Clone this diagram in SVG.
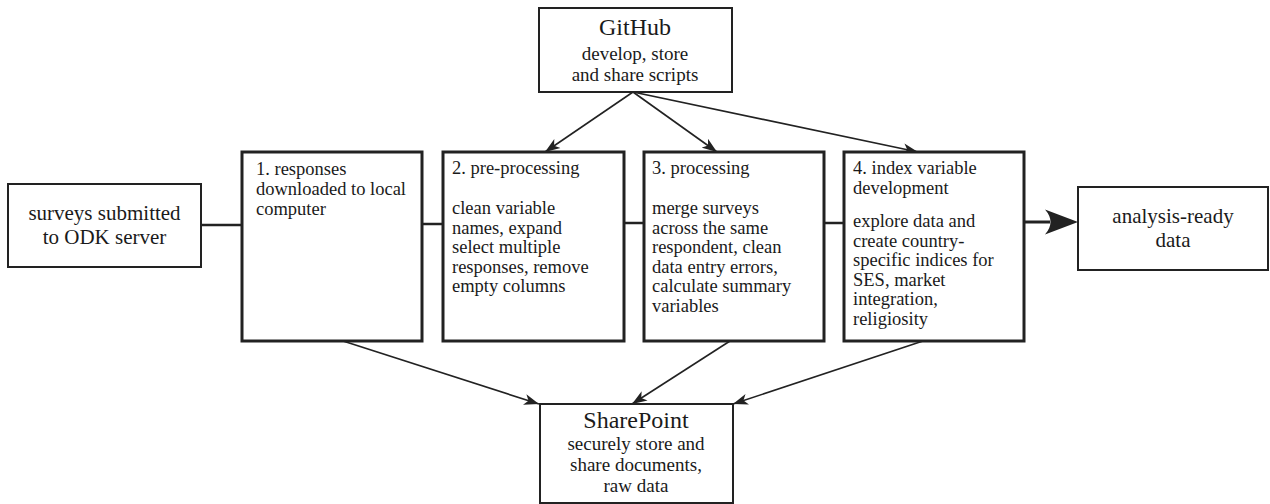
<svg xmlns="http://www.w3.org/2000/svg" width="1270" height="504" viewBox="0 0 1270 504">
<style>
  .box { fill: #ffffff; stroke: #222222; stroke-width: 2; }
  .pbox { fill: #ffffff; stroke: #222222; stroke-width: 3; }
  .t { font-family: "Liberation Serif", "Times New Roman", serif; fill: #1a1a1a; }
  .body { font-size: 18.5px; }
  .big { font-size: 21px; }
  .title { font-size: 24px; }
  .sub { font-size: 19px; }
  .conn { stroke: #222222; fill: none; }
  .h { stroke-width: 2.5; }
  .d { stroke-width: 1.6; }
</style>
<defs>
  <marker id="arr" markerUnits="userSpaceOnUse" markerWidth="16" markerHeight="12" refX="15" refY="6" orient="auto">
    <path d="M0,0.5 L15,6 L0,11.5 L4,6 z" fill="#222222"/>
  </marker>
</defs>
<rect width="1270" height="504" fill="#ffffff"/>

<g id="connectors">
  <line class="conn h" x1="201" y1="225" x2="242" y2="225"/>
  <line class="conn h" x1="422" y1="224" x2="443" y2="224"/>
  <line class="conn h" x1="624" y1="223" x2="644" y2="223"/>
  <line class="conn h" x1="824" y1="223" x2="844" y2="223"/>
  <line class="conn" stroke-width="3" x1="1024" y1="222" x2="1050" y2="222"/>
  <path d="M1078,222 L1045,209.5 Q1056,222 1045,234.5 z" fill="#222222"/>
  <line class="conn d" x1="633" y1="92" x2="545" y2="152" marker-end="url(#arr)"/>
  <line class="conn d" x1="633" y1="92" x2="717" y2="152" marker-end="url(#arr)"/>
  <line class="conn d" x1="633" y1="92" x2="918" y2="152" marker-end="url(#arr)"/>
  <line class="conn d" x1="343" y1="341" x2="539" y2="404" marker-end="url(#arr)"/>
  <line class="conn d" x1="730" y1="341" x2="632" y2="404" marker-end="url(#arr)"/>
  <line class="conn d" x1="923" y1="341" x2="733" y2="404" marker-end="url(#arr)"/>
</g>

<g id="node-odk">
  <rect class="box" x="8" y="184" width="193" height="83"/>
  <text class="t big" text-anchor="middle" x="104.5" y="220">surveys submitted</text>
  <text class="t big" text-anchor="middle" x="104.5" y="244">to ODK server</text>
</g>

<g id="node-step1">
  <rect class="pbox" x="242" y="152" width="180" height="189"/>
  <text class="t body" x="256" y="175">1. responses</text>
  <text class="t body" x="256" y="195">downloaded to local</text>
  <text class="t body" x="256" y="215">computer</text>
</g>

<g id="node-step2">
  <rect class="pbox" x="443" y="152" width="181" height="189"/>
  <text class="t body" x="452" y="174">2. pre-processing</text>
  <text class="t body" x="452" y="214">clean variable</text>
  <text class="t body" x="452" y="233.5">names, expand</text>
  <text class="t body" x="452" y="253">select multiple</text>
  <text class="t body" x="452" y="272.5">responses, remove</text>
  <text class="t body" x="452" y="292">empty columns</text>
</g>

<g id="node-step3">
  <rect class="pbox" x="644" y="152" width="180" height="189"/>
  <text class="t body" x="652" y="174">3. processing</text>
  <text class="t body" x="652" y="214">merge surveys</text>
  <text class="t body" x="652" y="233.5">across the same</text>
  <text class="t body" x="652" y="253">respondent, clean</text>
  <text class="t body" x="652" y="272.5">data entry errors,</text>
  <text class="t body" x="652" y="292">calculate summary</text>
  <text class="t body" x="652" y="311.5">variables</text>
</g>

<g id="node-step4">
  <rect class="pbox" x="844" y="152" width="180" height="189"/>
  <text class="t body" x="853" y="174">4. index variable</text>
  <text class="t body" x="853" y="194">development</text>
  <text class="t body" x="853" y="227">explore data and</text>
  <text class="t body" x="853" y="246.5">create country-</text>
  <text class="t body" x="853" y="266">specific indices for</text>
  <text class="t body" x="853" y="285.5">SES, market</text>
  <text class="t body" x="853" y="305">integration,</text>
  <text class="t body" x="853" y="324.5">religiosity</text>
</g>

<g id="node-analysis">
  <rect class="box" x="1078" y="187" width="190" height="83"/>
  <text class="t big" text-anchor="middle" x="1173" y="223">analysis-ready</text>
  <text class="t big" text-anchor="middle" x="1173" y="247">data</text>
</g>

<g id="node-github">
  <rect class="box" x="539" y="8" width="193" height="84"/>
  <text class="t title" text-anchor="middle" x="635" y="35">GitHub</text>
  <text class="t sub" text-anchor="middle" x="635" y="60">develop, store</text>
  <text class="t sub" text-anchor="middle" x="635" y="81">and share scripts</text>
</g>

<g id="node-sharepoint">
  <rect class="box" x="540" y="404" width="193" height="99"/>
  <text class="t title" text-anchor="middle" x="636" y="428">SharePoint</text>
  <text class="t sub" text-anchor="middle" x="636" y="450">securely store and</text>
  <text class="t sub" text-anchor="middle" x="636" y="471">share documents,</text>
  <text class="t sub" text-anchor="middle" x="636" y="492">raw data</text>
</g>
</svg>
